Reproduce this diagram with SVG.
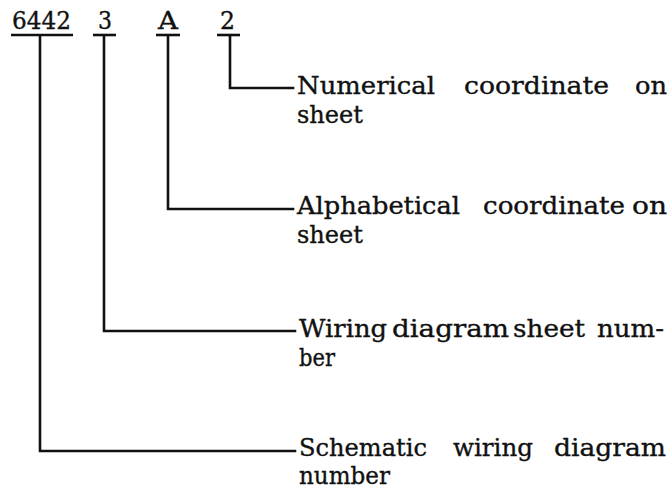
<svg xmlns="http://www.w3.org/2000/svg" width="669" height="488" viewBox="0 0 669 488">
<style>
.t{font-family:"DejaVu Serif","Liberation Serif",serif;font-size:24px;fill:#111;stroke:#111;stroke-width:0.35}
.l{fill:none;stroke:#111;stroke-width:2.6;stroke-linecap:square}
.u{fill:none;stroke:#111;stroke-width:2.6}
</style>
<rect width="669" height="488" fill="#fff"/>
<g id="code-6442"><text class="t" x="12" y="29" textLength="59" lengthAdjust="spacingAndGlyphs">6442</text><line class="u" x1="11" y1="35" x2="73" y2="35"/></g>
<g id="code-3"><text class="t" x="98" y="29" textLength="14" lengthAdjust="spacingAndGlyphs">3</text><line class="u" x1="93" y1="35" x2="116" y2="35"/></g>
<g id="code-A"><text class="t" x="158" y="29" textLength="20" lengthAdjust="spacingAndGlyphs">A</text><line class="u" x1="156" y1="35" x2="180" y2="35"/></g>
<g id="code-2"><text class="t" x="220" y="29" textLength="15" lengthAdjust="spacingAndGlyphs">2</text><line class="u" x1="217" y1="35" x2="240" y2="35"/></g>
<g id="connectors">
<polyline class="l" points="230,36 230,88 293,88"/>
<polyline class="l" points="168,36 168,209 293,209"/>
<polyline class="l" points="104,36 104,331 295,331"/>
<polyline class="l" points="40,36 40,451 295,451"/>
</g>
<g id="label-numerical">
<text class="t" x="297" y="94" textLength="138" lengthAdjust="spacingAndGlyphs">Numerical</text>
<text class="t" x="464" y="94" textLength="145" lengthAdjust="spacingAndGlyphs">coordinate</text>
<text class="t" x="635" y="94" textLength="32" lengthAdjust="spacingAndGlyphs">on</text>
<text class="t" x="297" y="123" textLength="66" lengthAdjust="spacingAndGlyphs">sheet</text>
</g>
<g id="label-alphabetical">
<text class="t" x="297" y="214" textLength="163" lengthAdjust="spacingAndGlyphs">Alphabetical</text>
<text class="t" x="483" y="214" textLength="142" lengthAdjust="spacingAndGlyphs">coordinate</text>
<text class="t" x="632" y="214" textLength="35" lengthAdjust="spacingAndGlyphs">on</text>
<text class="t" x="297" y="243" textLength="66" lengthAdjust="spacingAndGlyphs">sheet</text>
</g>
<g id="label-wiring">
<text class="t" x="299" y="337" textLength="88" lengthAdjust="spacingAndGlyphs">Wiring</text>
<text class="t" x="392" y="337" textLength="117" lengthAdjust="spacingAndGlyphs">diagram</text>
<text class="t" x="513" y="337" textLength="72" lengthAdjust="spacingAndGlyphs">sheet</text>
<text class="t" x="597" y="337" textLength="67" lengthAdjust="spacingAndGlyphs">num-</text>
<text class="t" x="299" y="366" textLength="36" lengthAdjust="spacingAndGlyphs">ber</text>
</g>
<g id="label-schematic">
<text class="t" x="299" y="456" textLength="128" lengthAdjust="spacingAndGlyphs">Schematic</text>
<text class="t" x="453" y="456" textLength="80" lengthAdjust="spacingAndGlyphs">wiring</text>
<text class="t" x="554" y="456" textLength="112" lengthAdjust="spacingAndGlyphs">diagram</text>
<text class="t" x="299" y="484" textLength="91" lengthAdjust="spacingAndGlyphs">number</text>
</g>
</svg>
